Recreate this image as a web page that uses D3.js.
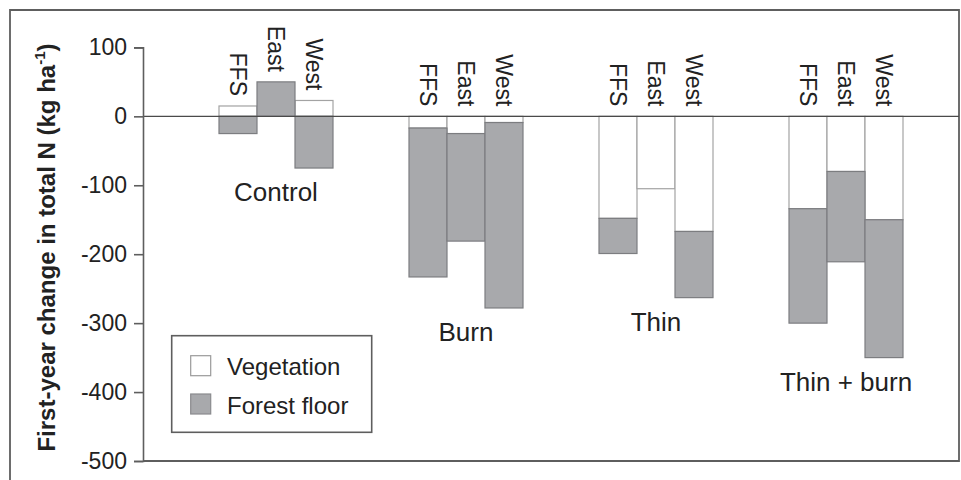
<!DOCTYPE html>
<html>
<head>
<meta charset="utf-8">
<script src="https://cdn.jsdelivr.net/npm/d3@7"></script>
<style>
  html, body { margin: 0; padding: 0; background: #fff; }
  svg { display: block; font-family: "Liberation Sans", Arial, Helvetica, sans-serif; }
</style>
</head>
<body>
<svg id="chart" width="961" height="480"></svg>
<script>
// ---- data ----
const groups = ["Control", "Burn", "Thin", "Thin + burn"];
const sites = ["FFS", "East", "West"];
// values listed group by group, site order FFS, East, West (kg N / ha)
const vegetation  = [15, 0, 23,   -17, -25, -9,    -148, -105, -167,   -134, -80, -150];
const forestFloor = [-25, 50, -75, -216, -156, -269, -51, 0, -96,      -166, -131, -200];
const yTicks = [100, 0, -100, -200, -300, -400, -500];
const seriesNames = ["Vegetation", "Forest floor"];

// ---- build rows ----
const rows = [];
groups.forEach((g, gi) => sites.forEach((s, si) => {
  const i = gi * sites.length + si;
  rows.push({ group: g, site: s, veg: vegetation[i], floor: forestFloor[i] });
}));

const svg = d3.select("#chart");
const W = 961, H = 480;
const axisX = 143, plotRight = 959;

const y = d3.scaleLinear().domain([-500, 100]).range([461, 47.4]);
const x0 = d3.scaleBand().domain(groups).range([181, 941]).paddingInner(0.4).paddingOuter(0.2);
const x1 = d3.scaleBand().domain(sites).range([0, x0.bandwidth()]);

const fillGray = "#a8a9ac", strokeGray = "#7c7d80";
const textCol = "#222";

// frame
svg.append("path")
  .attr("d", `M10,${H} V10 H${plotRight} V${y(-500)} H${axisX}`)
  .attr("fill", "none").attr("stroke", "#5e5e5e").attr("stroke-width", 1.8);

// stacked bars
const stack = d3.stack().keys(["veg", "floor"]).offset(d3.stackOffsetDiverging);
const stacked = stack(rows);
const styles = {
  veg:   { fill: "#ffffff", stroke: "#a3a3a3" },
  floor: { fill: fillGray,  stroke: strokeGray }
};
stacked.forEach(layer => {
  svg.append("g").selectAll("rect").data(layer.map((d, i) => ({ s: d, r: rows[i] })))
    .join("rect")
    .filter(d => d.s[1] !== d.s[0])
    .attr("x", d => x0(d.r.group) + x1(d.r.site))
    .attr("width", x1.bandwidth())
    .attr("y", d => y(d.s[1]))
    .attr("height", d => y(d.s[0]) - y(d.s[1]))
    .attr("fill", styles[layer.key].fill)
    .attr("stroke", styles[layer.key].stroke)
    .attr("stroke-width", 1.2);
});

// zero line
svg.append("line")
  .attr("x1", axisX).attr("x2", plotRight)
  .attr("y1", y(0)).attr("y2", y(0))
  .attr("stroke", "#4a4a4a").attr("stroke-width", 1.4);

// y axis
const yAxis = d3.axisLeft(y).tickValues(yTicks).tickSize(9).tickPadding(7).tickFormat(d3.format("d"));
const gy = svg.append("g").attr("transform", `translate(${axisX},0)`).call(yAxis);
gy.select(".domain").attr("stroke", "#5e5e5e").attr("stroke-width", 1.6);
gy.selectAll(".tick line").attr("stroke", "#5e5e5e").attr("stroke-width", 1.6);
gy.selectAll(".tick text").attr("font-size", 23).attr("fill", textCol)
  .attr("font-family", "'Liberation Sans', Arial, sans-serif")
  .text(d => d < 0 ? "-" + Math.abs(d) : d);

// site labels (rotated)
svg.append("g").selectAll("text").data(rows).join("text")
  .attr("transform", d => {
    const cx = x0(d.group) + x1(d.site) + x1.bandwidth() / 2;
    const top = Math.max(0, d.veg > 0 ? d.veg : 0, d.floor > 0 ? d.floor + Math.max(0, d.veg) : 0);
    return `translate(${cx},${y(top) - 10}) rotate(90)`;
  })
  .attr("text-anchor", "end")
  .attr("dy", "0.36em")
  .attr("font-size", 23)
  .attr("fill", textCol)
  .text(d => d.site);

// group labels
svg.append("g").selectAll("text").data(groups).join("text")
  .attr("x", g => x0(g) + x0.bandwidth() / 2)
  .attr("y", g => {
    const low = d3.min(rows.filter(r => r.group === g), r => Math.min(0, r.veg) + Math.min(0, r.floor));
    return y(low) + 33;
  })
  .attr("text-anchor", "middle")
  .attr("font-size", 26)
  .attr("fill", textCol)
  .text(g => g);

// y title
const title = svg.append("text")
  .attr("transform", `translate(55,${(40 + 455) / 2}) rotate(-90)`)
  .attr("text-anchor", "middle")
  .attr("font-size", 24)
  .attr("font-weight", "bold")
  .attr("fill", textCol);
title.append("tspan").text("First-year change in total N (kg ha");
title.append("tspan").attr("font-size", 15).attr("dy", -10).text("-1");
title.append("tspan").attr("dy", 10).text(")");

// legend
const lg = svg.append("g");
lg.append("rect").attr("x", 171.7).attr("y", 335.7).attr("width", 200).attr("height", 96.6)
  .attr("fill", "#fff").attr("stroke", "#5e5e5e").attr("stroke-width", 1.6);
const legendItems = [
  { name: seriesNames[0], fill: "#ffffff", stroke: "#9a9a9a" },
  { name: seriesNames[1], fill: fillGray, stroke: "#8a8b8e" }
];
legendItems.forEach((it, i) => {
  const yy = 355.7 + i * 38.3;
  lg.append("rect").attr("x", 190.7).attr("y", yy).attr("width", 20).attr("height", 20)
    .attr("fill", it.fill).attr("stroke", it.stroke).attr("stroke-width", 1.2);
  lg.append("text").attr("x", 227).attr("y", yy + 19.5)
    .attr("font-size", 24).attr("fill", textCol).text(it.name);
});
</script>
</body>
</html>
